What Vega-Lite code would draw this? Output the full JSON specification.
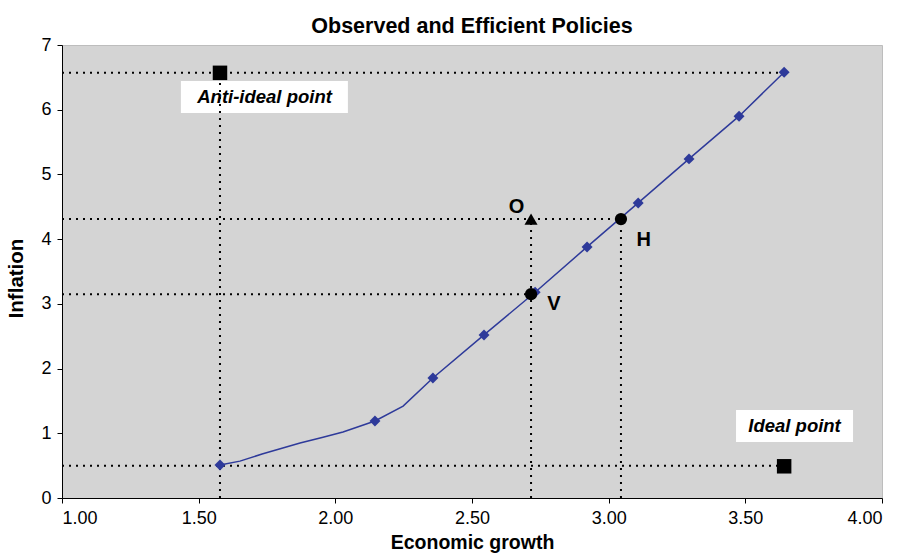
{
  "$schema": "https://vega.github.io/schema/vega-lite/v6.json",
  "autosize": {"type": "none"},
  "padding": {"left": 62, "top": 45, "right": 19, "bottom": 61},
  "width": 820,
  "height": 453,
  "background": "white",
  "title": {"text": "Observed and Efficient Policies", "font": "Liberation Sans", "fontSize": 21.5, "fontWeight": "bold", "color": "black", "offset": -1, "anchor": "middle"},
  "config": {
    "view": {"fill": "#d4d4d4", "stroke": "#bdbdbd", "strokeWidth": 1},
    "axis": {"labelFont": "Liberation Sans", "titleFont": "Liberation Sans", "labelColor": "black", "titleColor": "black", "domainColor": "black", "tickColor": "black", "grid": false, "labelFontSize": 18, "titleFontSize": 19.5, "titleFontWeight": "bold", "tickSize": 5}
  },
  "datasets": {
    "curve": [
      {"g": 1.578, "inf": 0.51}, {"g": 1.651, "inf": 0.57}, {"g": 1.732, "inf": 0.68}, {"g": 1.871, "inf": 0.85},
      {"g": 1.955, "inf": 0.94}, {"g": 2.028, "inf": 1.02}, {"g": 2.145, "inf": 1.19}, {"g": 2.248, "inf": 1.42},
      {"g": 2.357, "inf": 1.855}, {"g": 2.544, "inf": 2.52}, {"g": 2.731, "inf": 3.18}, {"g": 2.921, "inf": 3.88},
      {"g": 3.108, "inf": 4.56}, {"g": 3.294, "inf": 5.24}, {"g": 3.477, "inf": 5.9}, {"g": 3.642, "inf": 6.58}
    ],
    "pts": [
      {"g": 1.578, "inf": 0.51}, {"g": 2.145, "inf": 1.19}, {"g": 2.357, "inf": 1.855}, {"g": 2.544, "inf": 2.52},
      {"g": 2.731, "inf": 3.18}, {"g": 2.921, "inf": 3.88}, {"g": 3.108, "inf": 4.56}, {"g": 3.294, "inf": 5.24},
      {"g": 3.477, "inf": 5.9}, {"g": 3.642, "inf": 6.58}
    ],
    "guides": [
      {"x": 1.0, "x2": 3.642, "y": 6.57, "y2": 6.57},
      {"x": 1.578, "x2": 1.578, "y": 0, "y2": 6.57},
      {"x": 1.0, "x2": 3.045, "y": 4.31, "y2": 4.31},
      {"x": 2.716, "x2": 2.716, "y": 0, "y2": 4.31},
      {"x": 3.045, "x2": 3.045, "y": 0, "y2": 4.31},
      {"x": 1.0, "x2": 2.716, "y": 3.15, "y2": 3.15},
      {"x": 1.0, "x2": 3.642, "y": 0.5, "y2": 0.5}
    ],
    "boxes": [
      {"x": 1.435, "x2": 2.046, "y": 5.95, "y2": 6.445},
      {"x": 3.466, "x2": 3.894, "y": 0.866, "y2": 1.36}
    ],
    "boxlabels": [
      {"g": 1.741, "inf": 6.198, "label": "Anti-ideal point"},
      {"g": 3.68, "inf": 1.113, "label": "Ideal point"}
    ],
    "squares": [
      {"g": 1.578, "inf": 6.57, "name": "Anti-ideal"},
      {"g": 3.642, "inf": 0.49, "name": "Ideal"}
    ],
    "circles": [
      {"g": 2.716, "inf": 3.15, "name": "V"},
      {"g": 3.045, "inf": 4.31, "name": "H"}
    ],
    "triangle": [
      {"g": 2.716, "inf": 4.31, "name": "O"}
    ],
    "letters": [
      {"g": 2.663, "inf": 4.5, "name": "O"},
      {"g": 3.128, "inf": 3.99, "name": "H"},
      {"g": 2.8, "inf": 3.0, "name": "V"}
    ]
  },
  "layer": [
    {
      "data": {"name": "boxes"},
      "mark": {"type": "rect", "fill": "white"},
      "encoding": {
        "x": {"field": "x", "type": "quantitative", "scale": {"domain": [1, 4], "nice": false, "zero": false},
              "axis": {"values": [1, 1.5, 2, 2.5, 3, 3.5, 4], "format": ".2f", "title": "Economic growth", "labelPadding": 6, "titlePadding": 6}},
        "x2": {"field": "x2"},
        "y": {"field": "y", "type": "quantitative", "scale": {"domain": [0, 7], "nice": false},
              "axis": {"values": [0, 1, 2, 3, 4, 5, 6, 7], "format": "d", "title": "Inflation", "titleFontSize": 20.5, "titleY": 233, "labelPadding": 6, "titlePadding": 14}},
        "y2": {"field": "y2"}
      }
    },
    {
      "data": {"name": "boxlabels"},
      "mark": {"type": "text", "font": "Liberation Sans", "fontSize": 18.5, "fontWeight": "bold", "fontStyle": "italic", "color": "black", "baseline": "middle", "align": "center"},
      "encoding": {
        "x": {"field": "g", "type": "quantitative"},
        "y": {"field": "inf", "type": "quantitative"},
        "text": {"field": "label"}
      }
    },
    {
      "data": {"name": "guides"},
      "mark": {"type": "rule", "color": "black", "strokeDash": [2, 5], "strokeWidth": 2},
      "encoding": {
        "x": {"field": "x", "type": "quantitative"},
        "x2": {"field": "x2"},
        "y": {"field": "y", "type": "quantitative"},
        "y2": {"field": "y2"}
      }
    },
    {
      "data": {"name": "curve"},
      "mark": {"type": "line", "color": "#2e3a9a", "strokeWidth": 1.5},
      "encoding": {
        "x": {"field": "g", "type": "quantitative"},
        "y": {"field": "inf", "type": "quantitative"},
        "order": {"field": "g"}
      }
    },
    {
      "data": {"name": "pts"},
      "mark": {"type": "point", "shape": "diamond", "filled": true, "color": "#2e3a9a", "size": 120, "opacity": 1},
      "encoding": {
        "x": {"field": "g", "type": "quantitative"},
        "y": {"field": "inf", "type": "quantitative"}
      }
    },
    {
      "data": {"name": "squares"},
      "mark": {"type": "point", "shape": "square", "filled": true, "color": "black", "size": 210, "opacity": 1},
      "encoding": {
        "x": {"field": "g", "type": "quantitative"},
        "y": {"field": "inf", "type": "quantitative"}
      }
    },
    {
      "data": {"name": "circles"},
      "mark": {"type": "point", "shape": "circle", "filled": true, "color": "black", "size": 150, "opacity": 1},
      "encoding": {
        "x": {"field": "g", "type": "quantitative"},
        "y": {"field": "inf", "type": "quantitative"}
      }
    },
    {
      "data": {"name": "triangle"},
      "mark": {"type": "point", "shape": "triangle-up", "filled": true, "color": "black", "size": 170, "opacity": 1},
      "encoding": {
        "x": {"field": "g", "type": "quantitative"},
        "y": {"field": "inf", "type": "quantitative"}
      }
    },
    {
      "data": {"name": "letters"},
      "mark": {"type": "text", "font": "Liberation Sans", "fontSize": 20, "fontWeight": "bold", "color": "black", "baseline": "middle", "align": "center"},
      "encoding": {
        "x": {"field": "g", "type": "quantitative"},
        "y": {"field": "inf", "type": "quantitative"},
        "text": {"field": "name"}
      }
    }
  ]
}
